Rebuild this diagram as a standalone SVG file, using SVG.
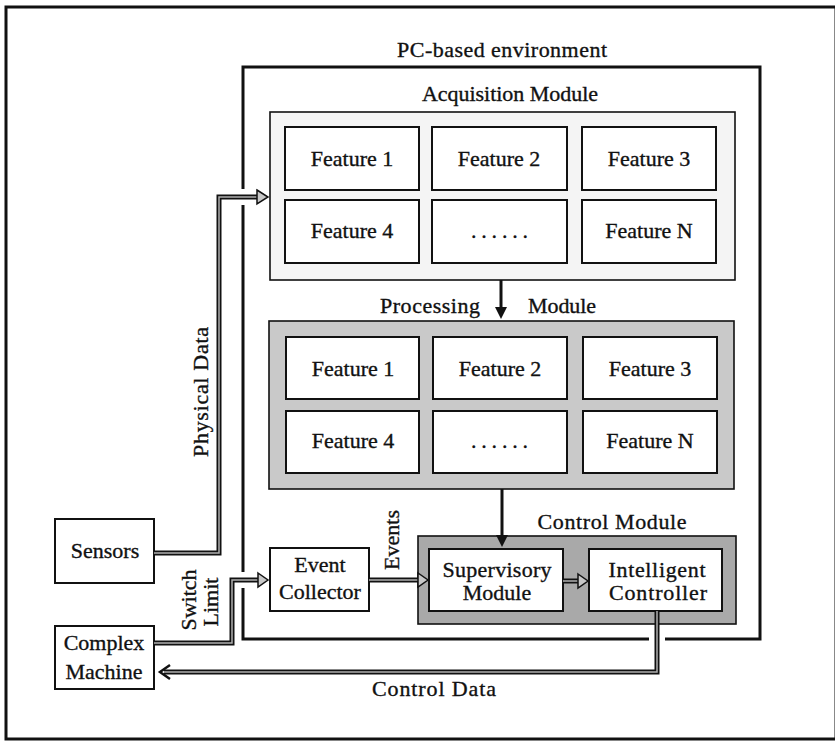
<svg xmlns="http://www.w3.org/2000/svg" width="835" height="742" viewBox="0 0 835 742">
<style>
text{font-family:"Liberation Serif","DejaVu Serif","Times New Roman",serif;font-size:22px;fill:#111;stroke:#111;stroke-width:0.35px;}
.c{text-anchor:middle;}
.box{fill:#fff;stroke:#111;stroke-width:2;}
.mod{stroke:#111;stroke-width:1.6;}
.dl{fill:none;stroke:#111;stroke-width:5;}
.dli{fill:none;stroke:#b0b0b0;stroke-width:1.5;}
.hd{fill:#c8c8c8;stroke:#111;stroke-width:1.5;}
.sl{fill:none;stroke:#111;stroke-width:3;}
</style>
<rect x="0" y="0" width="835" height="742" fill="#fff"/>
<rect id="frame" x="6" y="7" width="830" height="732" fill="none" stroke="#111" stroke-width="3"/>

<g id="pc-env">
<rect x="243" y="67" width="517" height="572" fill="none" stroke="#111" stroke-width="3"/>
<text class="c" x="502" y="57" textLength="210">PC-based environment</text>
</g>

<g id="acquisition-module">
<rect class="mod" x="270" y="112" width="465" height="168" fill="#f4f4f4"/>
<text class="c" x="510" y="101" textLength="176">Acquisition Module</text>
</g>
<g id="acq-f1"><rect class="box" x="285" y="127" width="134" height="63"/><text class="c" x="352" y="166">Feature 1</text></g>
<g id="acq-f2"><rect class="box" x="432" y="127" width="135" height="63"/><text class="c" x="499" y="166">Feature 2</text></g>
<g id="acq-f3"><rect class="box" x="582" y="127" width="134" height="63"/><text class="c" x="649" y="166">Feature 3</text></g>
<g id="acq-f4"><rect class="box" x="285" y="200" width="134" height="63"/><text class="c" x="352" y="238">Feature 4</text></g>
<g id="acq-dots"><rect class="box" x="432" y="200" width="135" height="63"/><text x="471" y="238" textLength="57" lengthAdjust="spacing">......</text></g>
<g id="acq-fn"><rect class="box" x="582" y="200" width="134" height="63"/><text class="c" x="649" y="238">Feature N</text></g>

<g id="processing-module">
<rect class="mod" x="269" y="321" width="465" height="168" fill="#c9c9c9"/>
<text x="380" y="313" textLength="100">Processing</text>
<text x="528" y="313" textLength="68">Module</text>
</g>
<g id="proc-f1"><rect class="box" x="286" y="337" width="133" height="62"/><text class="c" x="353" y="376">Feature 1</text></g>
<g id="proc-f2"><rect class="box" x="433" y="337" width="134" height="62"/><text class="c" x="500" y="376">Feature 2</text></g>
<g id="proc-f3"><rect class="box" x="583" y="337" width="134" height="62"/><text class="c" x="650" y="376">Feature 3</text></g>
<g id="proc-f4"><rect class="box" x="286" y="411" width="133" height="62"/><text class="c" x="353" y="448">Feature 4</text></g>
<g id="proc-dots"><rect class="box" x="433" y="411" width="134" height="62"/><text x="471" y="448" textLength="57" lengthAdjust="spacing">......</text></g>
<g id="proc-fn"><rect class="box" x="583" y="411" width="134" height="62"/><text class="c" x="650" y="448">Feature N</text></g>

<g id="control-module">
<rect class="mod" x="418" y="536" width="318" height="88" fill="#a9a9a9"/>
<text class="c" x="612" y="529" textLength="149">Control Module</text>
</g>
<g id="supervisory"><rect class="box" x="429" y="549" width="134" height="62"/><text class="c" x="497" y="577" textLength="109">Supervisory</text><text class="c" x="497" y="600">Module</text></g>
<g id="intelligent"><rect class="box" x="589" y="549" width="133" height="62"/><text class="c" x="657" y="577" textLength="97">Intelligent</text><text class="c" x="658" y="600" textLength="98">Controller</text></g>
<g id="event-collector"><rect class="box" x="270" y="548" width="99" height="63"/><text class="c" x="320" y="572">Event</text><text class="c" x="320" y="599">Collector</text></g>
<g id="sensors"><rect class="box" x="55" y="519" width="99" height="64"/><text class="c" x="105" y="558">Sensors</text></g>
<g id="complex-machine"><rect class="box" x="55" y="626" width="99" height="63"/><text class="c" x="104" y="650">Complex</text><text class="c" x="104" y="679">Machine</text></g>

<g id="connectors">
<rect x="238" y="189" width="10" height="16" fill="#fff"/>
<rect x="238" y="572" width="10" height="16" fill="#fff"/>
<rect x="649" y="635" width="16" height="9" fill="#fff"/>

<line class="sl" x1="501" y1="280" x2="501" y2="309"/>
<polygon points="495,307 507,307 501,319" fill="#111"/>
<line class="sl" x1="502" y1="489" x2="502" y2="537"/>
<polygon points="496,535 508,535 502,547" fill="#111"/>

<path class="dl" d="M154,553 H219 V197 H258"/>
<path class="dli" d="M154,553 H219 V197 H258"/>
<polygon class="hd" points="257,190 268,197 257,204"/>

<path class="dl" d="M154,643 H232 V580 H259"/>
<path class="dli" d="M154,643 H232 V580 H259"/>
<polygon class="hd" points="258,573 268,580 258,587"/>

<path class="dl" d="M369,580 H419"/>
<path class="dli" d="M369,580 H419"/>
<polygon class="hd" points="418,573 428,580 418,587"/>

<path class="dl" d="M563,581 H579"/>
<path class="dli" d="M563,581 H579"/>
<polygon class="hd" points="578,574 588,581 578,588"/>

<path class="dl" d="M657,611 V672 H164"/>
<path class="dli" d="M657,611 V672 H164"/>
<polyline points="170,665 160,672 170,679" fill="none" stroke="#111" stroke-width="2.5"/>

<text class="c" transform="translate(208,392) rotate(-90)" textLength="130">Physical Data</text>
<text class="c" transform="translate(399,540) rotate(-90)">Events</text>
<text class="c" transform="translate(196,600) rotate(-90)">Switch</text>
<text class="c" transform="translate(218,602) rotate(-90)">Limit</text>
<text class="c" x="434" y="696" textLength="124">Control Data</text>
</g>
</svg>
